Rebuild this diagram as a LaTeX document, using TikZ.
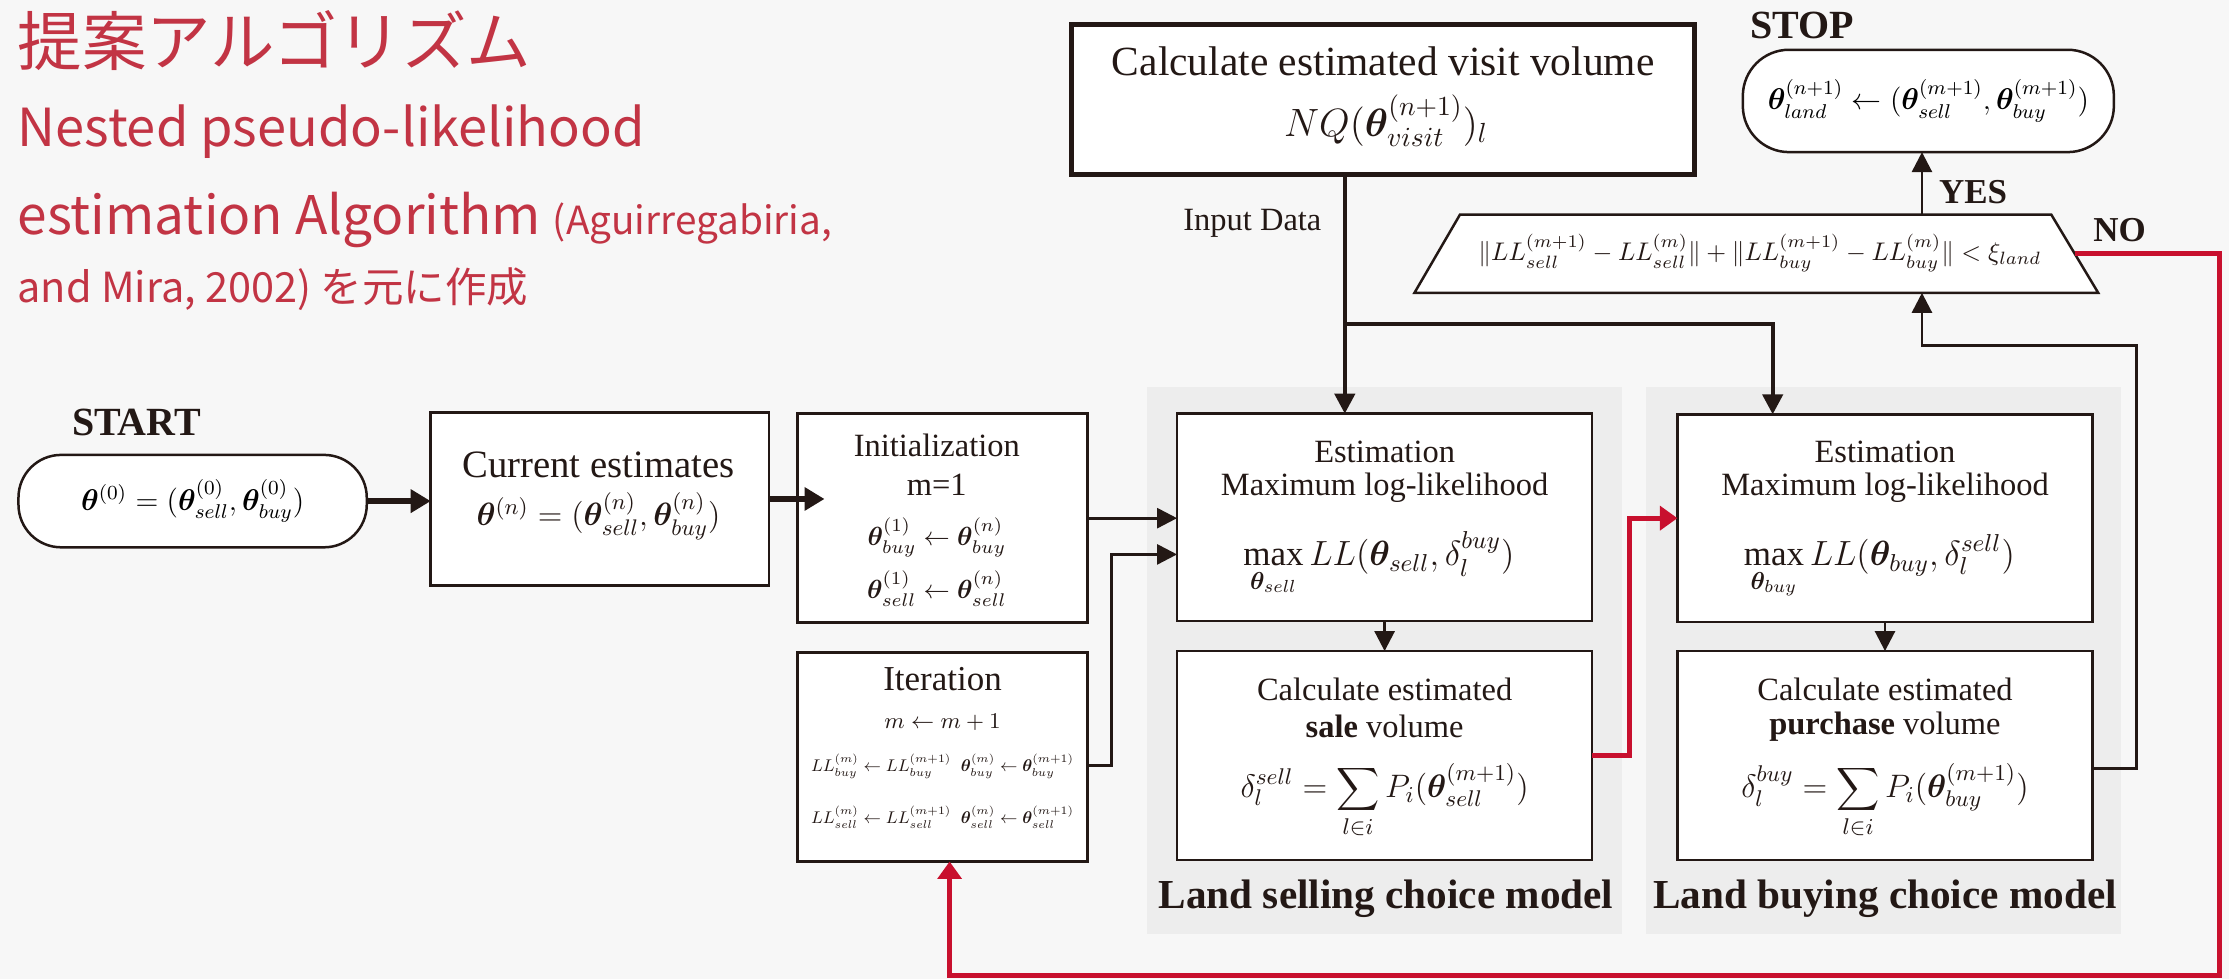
\RequirePackage{fix-cm}
\documentclass[tikz,border=0pt]{standalone}
\usepackage{amsmath}
\usepackage{bm}
\usepackage{fontspec}
\setmainfont{Liberation Serif}
\newfontfamily\jpfont{Noto Sans CJK JP}
\usetikzlibrary{arrows.meta,shapes.geometric,calc}
\definecolor{ink}{HTML}{231815}
\definecolor{bgc}{HTML}{F7F7F7}
\definecolor{panelc}{HTML}{EDEDED}
\definecolor{redl}{HTML}{C8102E}
\definecolor{titlec}{HTML}{C23444}
\newcommand{\fsz}[1]{\fontsize{#1}{#1}\selectfont}
\newcommand{\bt}{\bm{\theta}}
\tikzset{
  box/.style={draw=ink, fill=white, line width=1pt, inner sep=0pt, outer sep=0pt, rectangle},
  lbl/.style={inner sep=0pt, outer sep=0pt, text=ink, align=center},
  ttl/.style={anchor=base west, inner sep=0pt, text=titlec},
  conn/.style={draw=ink, line width=1.1pt, -{Triangle[length=8pt,width=8pt]}},
  thk/.style={draw=ink, line width=1.7pt},
  fat/.style={draw=ink, line width=2.2pt, -{Triangle[length=8pt,width=9pt]}},
  redc/.style={draw=redl, line width=2pt, -{Triangle[length=7pt,width=9.5pt]}}
}
\begin{document}
\begin{tikzpicture}[x=0.2mm, y=-0.2mm]
\fill[bgc] (0,0) rectangle (1568,689);
\useasboundingbox (0,0) rectangle (1568,689);

% title
\node[ttl, font=\jpfont\fsz{25.8}] (t1) at (12,46) {提案アルゴリズム};
\node[ttl, font=\jpfont\fsz{21}] (t2) at (12,103) {Nested pseudo-likelihood};
\node[ttl, font=\jpfont\fsz{21.3}] (t3) at (12,165) {estimation Algorithm {\fsz{15.5}(Aguirregabiria,}};
\node[ttl, font=\jpfont\fsz{16.6}] (t4) at (12,213) {and Mira, 2002) を元に作成};

% panels
\fill[panelc] (807,272) rectangle (1141,657);
\fill[panelc] (1158,272) rectangle (1492,657);
\node[lbl, font=\bfseries\fsz{16.5}] (selllbl) at (975,632) {Land selling choice model};
\node[lbl, font=\bfseries\fsz{16.5}] (buylbl) at (1326,632) {Land buying choice model};

% START
\node[lbl, font=\bfseries\fsz{16}] (startlbl) at (96,297) {START};
\node[box, rounded corners=6mm, minimum width=49mm, minimum height=13mm, font=\fsz{12}] (start) at (135.5,352.5)
  {$\bt^{(0)}=(\bt^{(0)}_{sell},\bt^{(0)}_{buy})$};

% current estimates
\node[box, minimum width=47.6mm, minimum height=24.4mm] (cur) at (422,351) {};
\node[lbl, font=\fsz{15.5}] (curT) at (421,327) {Current estimates};
\node[lbl, font=\fsz{12.9}] (curM) at (421,363) {$\bt^{(n)} = (\bt^{(n)}_{sell},\bt^{(n)}_{buy})$};

% initialization
\node[box, minimum width=40.8mm, minimum height=29.4mm] (init) at (663,364.5) {};
\node[lbl, font=\fsz{13}] (initT) at (659,313) {Initialization};
\node[lbl, font=\fsz{13}] (initM) at (659,341) {m=1};
\node[lbl, font=\fsz{10.5}] (initB) at (659,378) {$\bt^{(1)}_{buy} \leftarrow \bt^{(n)}_{buy}$};
\node[lbl, font=\fsz{10.5}] (initS) at (659,414) {$\bt^{(1)}_{sell} \leftarrow \bt^{(n)}_{sell}$};

% iteration
\node[box, minimum width=40.8mm, minimum height=29.4mm] (iter) at (663,532.5) {};
\node[lbl, font=\fsz{14}] (iterT) at (663,478) {Iteration};
\node[lbl, font=\fsz{9}] (iterM) at (663,508) {$m \leftarrow m+1$};
\node[lbl, font=\fsz{9}] (iterB) at (663,539) {\resizebox{37mm}{!}{$LL^{(m)}_{buy} \leftarrow LL^{(m+1)}_{buy}\;\; \bt^{(m)}_{buy} \leftarrow \bt^{(m+1)}_{buy}$}};
\node[lbl, font=\fsz{9}] (iterS) at (663,575) {\resizebox{37mm}{!}{$LL^{(m)}_{sell} \leftarrow LL^{(m+1)}_{sell}\;\; \bt^{(m)}_{sell} \leftarrow \bt^{(m+1)}_{sell}$}};

% selling model
\node[box, minimum width=58.4mm, minimum height=29.2mm] (estS) at (974,364) {};
\node[lbl, font=\fsz{13}] (estST) at (974,318) {Estimation};
\node[lbl, font=\fsz{13}] (estSM) at (974,343) {Maximum log-likelihood};
\node[lbl, font=\fsz{14}, anchor=base] (estSF) at (970,398) {$\displaystyle\max_{\bt_{sell}} LL(\bt_{sell},\delta_l^{buy})$};
\node[box, minimum width=58.4mm, minimum height=29.4mm] (calcS) at (974,531.5) {};
\node[lbl, font=\fsz{13}] (calcST) at (974,485) {Calculate estimated};
\node[lbl, font=\fsz{13}] (calcSM) at (974,511) {\textbf{sale} volume};
\node[lbl, font=\fsz{13}, anchor=base] (calcSF) at (974,561) {$\displaystyle\delta_l^{sell}=\sum_{l\in i}P_i(\bt^{(m+1)}_{sell})$};

% buying model
\node[box, minimum width=58.4mm, minimum height=29.2mm] (estB) at (1326,364.5) {};
\node[lbl, font=\fsz{13}] (estBT) at (1326,318) {Estimation};
\node[lbl, font=\fsz{13}] (estBM) at (1326,343) {Maximum log-likelihood};
\node[lbl, font=\fsz{14}, anchor=base] (estBF) at (1322,398) {$\displaystyle\max_{\bt_{buy}} LL(\bt_{buy},\delta_l^{sell})$};
\node[box, minimum width=58.4mm, minimum height=29.4mm] (calcB) at (1326,531.5) {};
\node[lbl, font=\fsz{13}] (calcBT) at (1326,485) {Calculate estimated};
\node[lbl, font=\fsz{13}] (calcBM) at (1326,511) {\textbf{purchase} volume};
\node[lbl, font=\fsz{13}, anchor=base] (calcBF) at (1326,561) {$\displaystyle\delta_l^{buy}=\sum_{l\in i}P_i(\bt^{(m+1)}_{buy})$};

% visit volume
\node[box, line width=2pt, minimum width=87.6mm, minimum height=21.2mm] (visit) at (973,70) {};
\node[lbl, font=\fsz{16.6}] (visitT) at (973,43) {Calculate estimated visit volume};
\node[lbl, font=\fsz{15.8}, anchor=base] (visitF) at (975,96) {$NQ(\bt^{(n+1)}_{visit})_l$};
\node[lbl, font=\fsz{13}] (inlbl) at (881,157) {Input Data};

% STOP
\node[lbl, font=\bfseries\fsz{16}] (stoplbl) at (1268,18) {STOP};
\node[box, rounded corners=6.5mm, minimum width=52.2mm, minimum height=14.4mm, font=\fsz{12}] (stop) at (1356.5,71)
  {$\bt^{(n+1)}_{land} \leftarrow (\bt^{(m+1)}_{sell},\bt^{(m+1)}_{buy})$};

% convergence test
\node[rectangle, draw=none, inner sep=0pt, outer sep=0pt,
      minimum width=96.2mm, minimum height=11mm] (trap) at (1235.5,178.5) {};
\draw[draw=ink, fill=white, line width=1pt] (trap.south west) -- ($(trap.north west)+(32,0)$)
  -- ($(trap.north east)+(-33,0)$) -- (trap.south east) -- cycle;
\node[lbl, font=\fsz{10.2}] (trapF) at (1238,178) {$\|LL^{(m+1)}_{sell}-LL^{(m)}_{sell}\|+\|LL^{(m+1)}_{buy}-LL^{(m)}_{buy}\|<\xi_{land}$};
\node[lbl, font=\bfseries\fsz{14}] (yes) at (1388,135) {YES};
\node[lbl, font=\bfseries\fsz{14}] (no) at (1491,162) {NO};

% helper coordinates
\coordinate (vx) at (946,228);
\coordinate (yx) at (1352,243);
\coordinate (lp) at (1503,243);
\coordinate (nr) at (1561,686);

% connectors
\draw[fat] (start.east) -- (cur.west |- start.east);
\draw[fat] (cur.east) -- ($(init.west |- cur.east)+(19,0)$);
\draw[conn] (init.east) -- (estS.west |- init.east);
\draw[conn] ($(iter.east)+(0,6)$) -- ++(17,0) |- ($(estS.west)+(0,26)$);
\draw[thk] (visit.south -| vx) -- (vx);
\draw[thk, -{Triangle[length=8pt,width=8pt]}] (vx) -- (estS.north -| vx);
\draw[thk, -{Triangle[length=8pt,width=8pt]}] (vx) -| ($(estB.north)+(-79,0)$);
\draw[conn] (estS.south) -- (calcS.north);
\draw[conn] (estB.south) -- (calcB.north);
\draw[redc] (calcS.east) -- ++(26,0) |- (estB.west);
\draw[conn] ($(calcB.east)+(0,9)$) -| (lp) -| (trap.south -| yx);
\draw[conn] (trap.north -| yx) -- (stop.south -| yx);
\draw[redc] ($(trap.east)+(-16.5,0)$) -| (nr) -| ($(iter.south)+(5,0)$);
\end{tikzpicture}
\end{document}
